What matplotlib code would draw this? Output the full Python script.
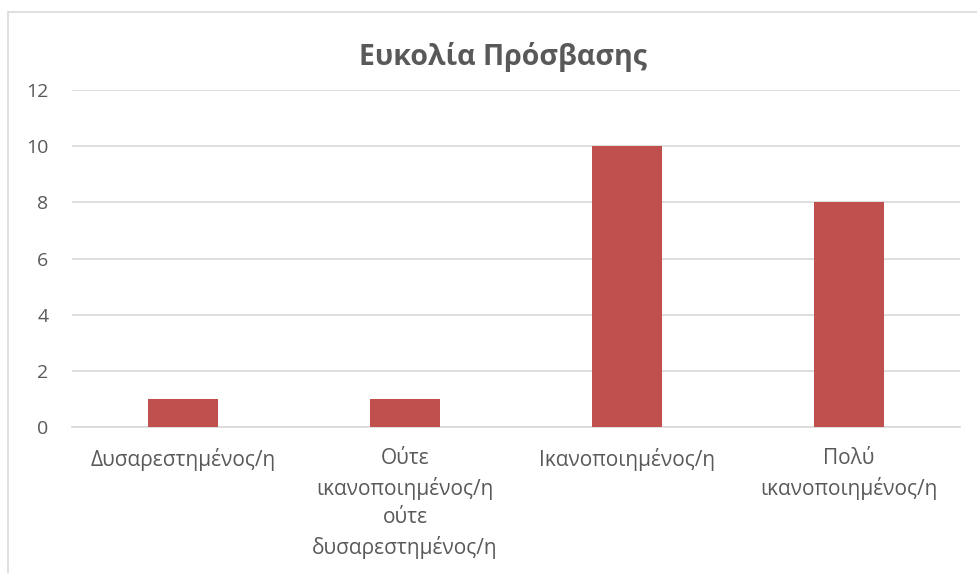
import matplotlib.pyplot as plt
from matplotlib.patches import Rectangle

plt.rcParams['font.family'] = ['Open Sans', 'DejaVu Sans']

title = 'Ευκολία Πρόσβασης'
categories = ['Δυσαρεστημένος/η',
              'Ούτε\nικανοποιημένος/η\nούτε\nδυσαρεστημένος/η',
              'Ικανοποιημένος/η',
              'Πολύ\nικανοποιημένος/η']
values = [1, 1, 10, 8]
yticks = [0, 2, 4, 6, 8, 10, 12]

text_col = '#595959'
grid_col = '#D9D9D9'

fig = plt.figure(figsize=(9.77, 5.73), dpi=100)
# outer chart border (left + top visible, right/bottom run off the image)
fig.patches.append(Rectangle((8 / 977, -0.05), 1.2, 1 - 12 / 573 + 0.05,
                             transform=fig.transFigure, fill=False,
                             edgecolor=grid_col, linewidth=1.2))

ax = fig.add_axes([72 / 977, 1 - 427 / 573, 888 / 977, (427 - 90) / 573])
x = range(len(categories))
ax.bar(x, values, width=0.315, color='#C0504D', zorder=3)

ax.set_xlim(-0.5, len(categories) - 0.5)
ax.set_ylim(0, 12)
ax.set_yticks(yticks)
ax.set_xticks(list(x))
ax.set_xticklabels(categories, linespacing=1.45)
ax.tick_params(axis='x', length=0, labelsize=15, colors=text_col, pad=15)
ax.tick_params(axis='y', length=0, labelsize=14, colors=text_col, pad=17)
ax.grid(axis='y', color=grid_col, linewidth=1.2, zorder=0)
for s in ['top', 'right', 'left']:
    ax.spines[s].set_visible(False)
ax.spines['bottom'].set_color(grid_col)
ax.spines['bottom'].set_linewidth(1.2)

fig.text(503 / 977, 1 - 57 / 573, title, ha='center', va='center',
         fontsize=20.5, fontweight='bold', color=text_col)

fig.savefig('out.png', dpi=100)
